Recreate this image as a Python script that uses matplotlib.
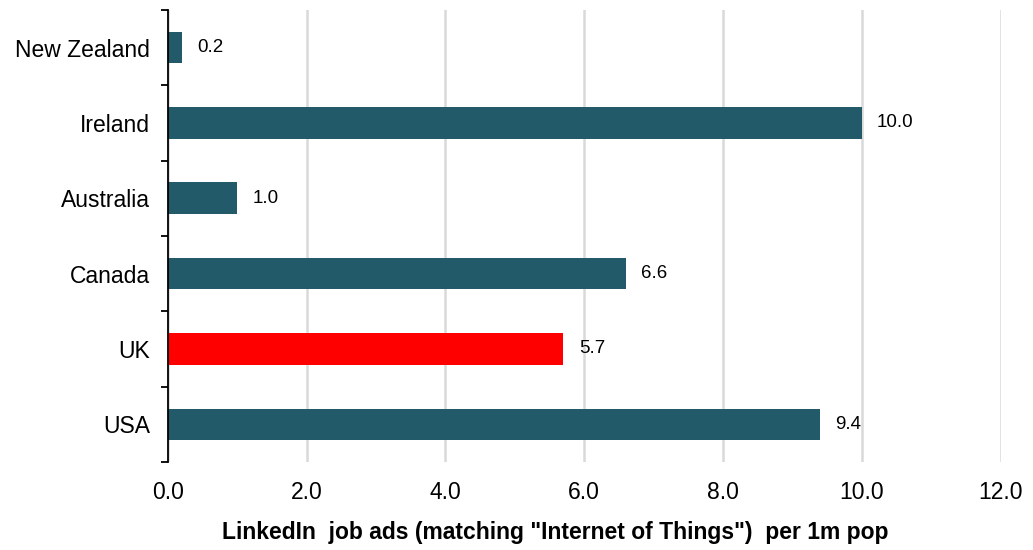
import matplotlib.pyplot as plt
import numpy as np

plt.rcParams["font.family"] = ["Liberation Sans", "DejaVu Sans"]

countries = ["USA", "UK", "Canada", "Australia", "Ireland", "New Zealand"]
ads_per_1m = [9.4, 5.7, 6.6, 1.0, 10.0, 0.2]
bar_colors = ["#235A69", "#FF0000", "#235A69", "#235A69", "#235A69", "#235A69"]

fig = plt.figure(figsize=(10.33, 5.5), dpi=100)
ax = fig.add_axes([0.1626, 0.16, 0.806, 0.822])

y = np.arange(len(countries))
ax.barh(y, ads_per_1m, height=0.42, color=bar_colors, zorder=3)

for yi, v in zip(y, ads_per_1m):
    ax.text(v + 0.22, yi, f"{v:.1f}", va="center", ha="left", fontsize=13.5, zorder=4)

ax.set_xlim(0, 12)
ax.set_ylim(-0.5, len(countries) - 0.5)
ax.set_xticks(np.arange(0, 12.1, 2))
ax.set_xticklabels([f"{t:.1f}" for t in np.arange(0, 12.1, 2)], fontsize=16.5)
ax.set_yticks(y)
ax.set_yticklabels(countries, fontsize=16.5)
ax.set_yticks(np.arange(-0.5, len(countries)), minor=True)
ax.tick_params(axis="y", which="major", length=0, pad=13)
ax.tick_params(axis="y", which="minor", length=5, width=1.3, direction="out")
ax.tick_params(axis="x", length=0, pad=14)

ax.grid(axis="x", color="#D9D9D9", linewidth=1.8, zorder=0)
for side in ["top", "right", "bottom"]:
    ax.spines[side].set_visible(False)
ax.spines["left"].set_linewidth(1.3)
ax.spines["left"].set_zorder(5)

ax.set_xlabel('LinkedIn  job ads (matching "Internet of Things")  per 1m pop',
              fontsize=16.5, fontweight="bold", va="center")
ax.xaxis.set_label_coords(0.465, -0.157)

fig.savefig("out.png", dpi=100)
